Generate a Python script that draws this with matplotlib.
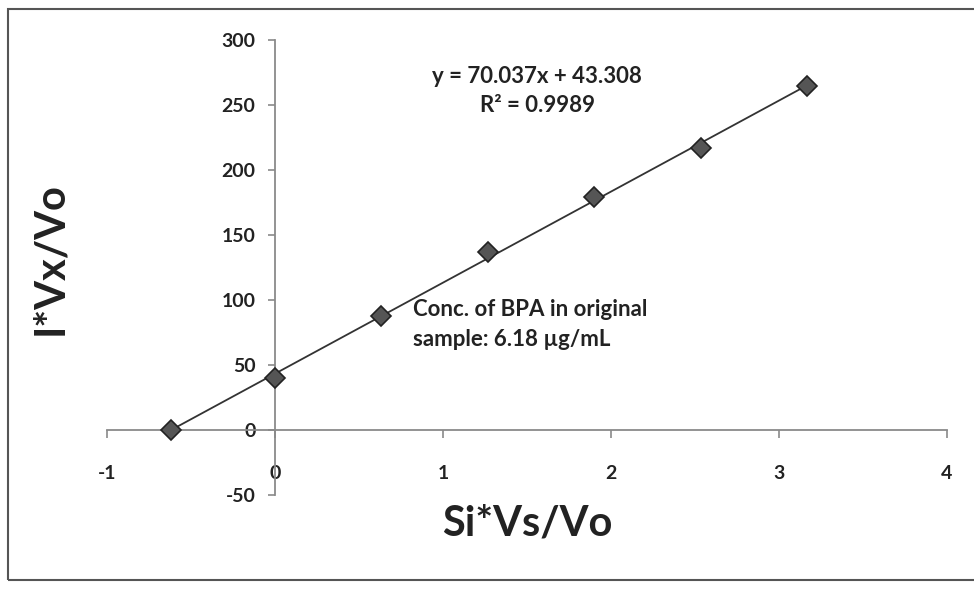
import matplotlib.pyplot as plt
from matplotlib.patches import Rectangle

# standard addition data
x_vals = [-0.618, 0.0, 0.633, 1.267, 1.90, 2.533, 3.167]
y_vals = [0, 40, 88, 137, 179, 217, 265]
slope = 70.037
intercept = 43.308
x_ticks = [-1, 0, 1, 2, 3, 4]
y_ticks = [-50, 0, 50, 100, 150, 200, 250, 300]

plt.rcParams['font.family'] = ['Lato', 'DejaVu Sans']
plt.rcParams['axes.unicode_minus'] = False

fig = plt.figure(figsize=(9.74, 5.89), dpi=100)
ax = fig.add_axes([107 / 974, 1 - 495 / 589, 840 / 974, 455 / 589])

# trendline from intercept point to last point
x_line = [x_vals[0], x_vals[-1]]
y_line = [slope * x + intercept for x in x_line]
ax.plot(x_line, y_line, color="#333333", lw=1.3, zorder=2)
ax.plot(x_vals, y_vals, linestyle="none", marker="D", ms=10,
        markerfacecolor="#555555", markeredgecolor="#222222", markeredgewidth=1.2, zorder=3)

ax.set_xlim(-1, 4)
ax.set_ylim(-50, 300)
ax.set_xticks(x_ticks)
ax.set_yticks(y_ticks)

# axes cross at origin, Excel style
ax.spines["left"].set_position(("data", 0))
ax.spines["bottom"].set_position(("data", 0))
ax.spines["right"].set_visible(False)
ax.spines["top"].set_visible(False)
for s in ["left", "bottom"]:
    ax.spines[s].set_color("#8a8a8a")
    ax.spines[s].set_linewidth(1.3)
ax.tick_params(axis="x", direction="out", length=6, width=1.2, color="#8a8a8a",
               pad=19, labelsize=14, labelcolor="#222222")
ax.tick_params(axis="y", direction="out", length=5, width=1.2, color="#8a8a8a",
               pad=9, labelsize=14, labelcolor="#222222")
for lab in ax.get_xticklabels() + ax.get_yticklabels():
    lab.set_fontweight("bold")

ax.set_xlabel("Si*Vs/Vo", fontsize=30, fontweight="bold", color="#222222")
ax.set_ylabel("I*Vx/Vo", fontsize=30, fontweight="bold", color="#222222")
ax.xaxis.set_label_coords(0.5, -0.02)
ax.yaxis.set_label_coords(-0.045, 0.52)

ax.text(1.56, 261, "y = 70.037x + 43.308\nR² = 0.9989", ha="center", va="center",
        fontsize=16, fontweight="bold", color="#222222", linespacing=1.45)
ax.text(0.82, 81, "Conc. of BPA in original\nsample: 6.18 µg/mL", ha="left", va="center",
        fontsize=16, fontweight="bold", color="#222222", linespacing=1.55)

# outer chart border
fig.patches.append(Rectangle((8 / 974, 1 - 580 / 589), 1.0, 571 / 589,
                             transform=fig.transFigure, fill=False,
                             edgecolor="#555555", lw=1.5))

plt.savefig("out.png", dpi=100)
